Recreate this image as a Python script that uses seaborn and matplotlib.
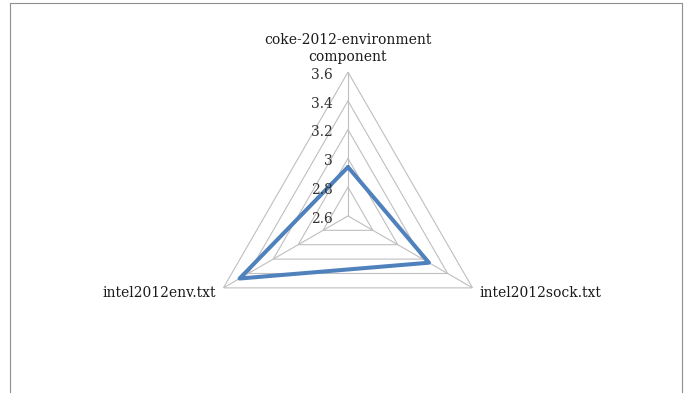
import numpy as np
import pandas as pd
import matplotlib
matplotlib.use("Agg")
import matplotlib.pyplot as plt
import seaborn as sns
from matplotlib.lines import Line2D

# data
categories = ["coke-2012-environment\ncomponent", "intel2012sock.txt", "intel2012env.txt"]
values = [2.94, 3.25, 3.47]
ring_ticks = [2.6, 2.8, 3.0, 3.2, 3.4, 3.6]
tick_labels = ["2.6", "2.8", "3", "3.2", "3.4", "3.6"]

sns.set_style("white")
plt.rcParams["font.family"] = ["DejaVu Serif"]

fig = plt.figure(figsize=(6.85, 3.93), dpi=100)
ax = fig.add_axes([0.298, 0.084, 0.420, 0.733], projection="polar")
ax.set_theta_offset(np.pi / 2)
ax.set_theta_direction(-1)

angles = np.linspace(0, 2 * np.pi, len(categories), endpoint=False)
closed = np.append(angles, angles[0])

# polygon rings
grid_col = "#bfbfbf"
for r in ring_ticks[1:]:
    ax.plot(closed, [r] * len(closed), color=grid_col, lw=0.8, zorder=1)

# close the loop by repeating the first point
df = pd.DataFrame({"theta": closed, "value": values + values[:1], "step": range(len(closed))})
sns.lineplot(data=df, x="theta", y="value", ax=ax, sort=False, estimator=None,
             units=None, color="#4f81bd", linewidth=2.9, zorder=3)

ax.set_ylim(ring_ticks[0], ring_ticks[-1])
ax.set_yticks([])
ax.set_xticks(angles)
ax.set_xticklabels([])
ax.xaxis.grid(True, color=grid_col, lw=0.8)
ax.yaxis.grid(False)
ax.spines["polar"].set_visible(False)
ax.set_xlabel("")
ax.set_ylabel("")

# value labels left of the top spoke
for r, lab in zip(ring_ticks, tick_labels):
    ax.annotate(lab, xy=(0, r), xytext=(-11, -2), textcoords="offset points",
                ha="right", va="center", fontsize=10, color="#333333")

# category labels
offsets = [((0, 6), "center", "bottom"), ((5, -4), "left", "center"), ((-5, -4), "right", "center")]
for ang, lab, (off, ha, va) in zip(angles, categories, offsets):
    ax.annotate(lab, xy=(ang, ring_ticks[-1]), xytext=off, textcoords="offset points",
                ha=ha, va=va, fontsize=10, color="#1a1a1a", linespacing=1.25)

# chart frame (bottom edge cut off)
frame_col = "#8f8f8f"
fig.add_artist(Line2D([10 / 685, 682 / 685], [1 - 3 / 393, 1 - 3 / 393], color=frame_col, lw=0.8))
fig.add_artist(Line2D([10 / 685, 10 / 685], [0, 1 - 3 / 393], color=frame_col, lw=0.8))
fig.add_artist(Line2D([682 / 685, 682 / 685], [0, 1 - 3 / 393], color=frame_col, lw=0.8))

fig.savefig("out.png", dpi=100, facecolor="white")
